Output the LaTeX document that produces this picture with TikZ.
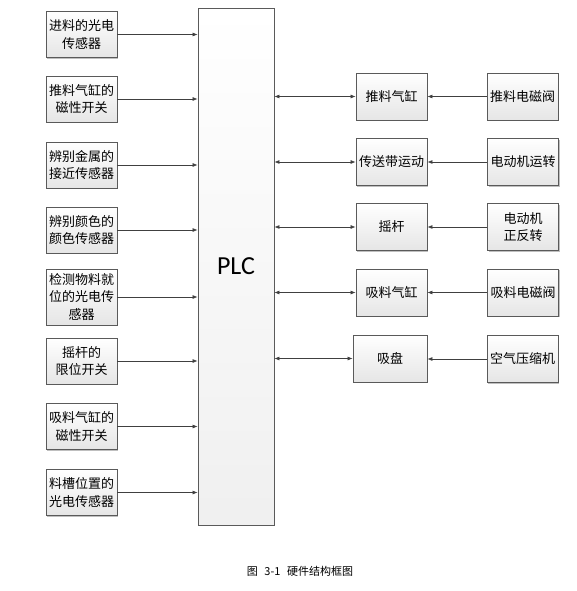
\documentclass[tikz,border=0pt]{standalone}
\usepackage{fontspec}
\newfontfamily\cjk{Noto Sans CJK SC}
\newfontfamily\plcfont{Carlito}
\usetikzlibrary{arrows.meta,shadows}
\definecolor{bordc}{HTML}{5A5A5A}
\definecolor{linec}{HTML}{404040}
\tikzset{
  blk/.style={draw=bordc, line width=0.8pt, top color=white, bottom color=black!10,
    drop shadow={shadow xshift=1.2pt, shadow yshift=-1.2pt, opacity=0.25, fill=black},
    inner sep=0pt, align=center, font=\cjk\fontsize{13}{17.5}\selectfont},
  conn/.style={draw=linec, line width=0.7pt, -{Latex[length=5pt,width=4pt]}},
  dconn/.style={draw=linec, line width=0.7pt, {Latex[length=5pt,width=4pt]}-{Latex[length=5pt,width=4pt]}},
}
\begin{document}
\begin{tikzpicture}[x=1pt,y=-1pt]
\useasboundingbox (0,0) rectangle (577,591);
% PLC
\node[blk, minimum width=76pt, minimum height=517pt, top color=white, bottom color=black!6,
  font=\plcfont\fontsize{26}{30}\selectfont] (plc) at (236,266.5) {PLC};
% left inputs
\node[blk, minimum width=71pt, minimum height=46pt] (l1) at (81.5,34.5) {进料的光电\\传感器};
\node[blk, minimum width=71pt, minimum height=46pt] (l2) at (81.5,99) {推料气缸的\\磁性开关};
\node[blk, minimum width=71pt, minimum height=46pt] (l3) at (81.5,165) {辨别金属的\\接近传感器};
\node[blk, minimum width=71pt, minimum height=46pt] (l4) at (81.5,230) {辨别颜色的\\颜色传感器};
\node[blk, minimum width=71pt, minimum height=56pt] (l5) at (81.5,297) {检测物料就\\位的光电传\\感器};
\node[blk, minimum width=71pt, minimum height=46pt] (l6) at (81.5,361) {摇杆的\\限位开关};
\node[blk, minimum width=71pt, minimum height=46pt] (l7) at (81.5,426.5) {吸料气缸的\\磁性开关};
\node[blk, minimum width=71pt, minimum height=46pt] (l8) at (81.5,492.5) {料槽位置的\\光电传感器};
\foreach \i in {1,...,8} {\draw[conn] (l\i.east) -- (l\i.east -| plc.west);}
% middle
\node[blk, minimum width=71pt, minimum height=47pt] (m1) at (391.5,96.5) {推料气缸};
\node[blk, minimum width=71pt, minimum height=47pt] (m2) at (391.5,162) {传送带运动};
\node[blk, minimum width=71pt, minimum height=47pt] (m3) at (391.5,227) {摇杆};
\node[blk, minimum width=71pt, minimum height=47pt] (m4) at (391.5,292.5) {吸料气缸};
\node[blk, minimum width=74pt, minimum height=47pt] (m5) at (390,358.5) {吸盘};
% right
\node[blk, minimum width=71pt, minimum height=47pt] (r1) at (522.5,96.5) {推料电磁阀};
\node[blk, minimum width=71pt, minimum height=47pt] (r2) at (523,162) {电动机运转};
\node[blk, minimum width=71pt, minimum height=47pt] (r3) at (523,227) {电动机\\正反转};
\node[blk, minimum width=71pt, minimum height=47pt] (r4) at (523,292.5) {吸料电磁阀};
\node[blk, minimum width=71pt, minimum height=47pt] (r5) at (522.5,359) {空气压缩机};
\foreach \i in {1,...,5} {
  \draw[dconn] (m\i.west -| plc.east) -- (m\i.west);
  \draw[conn] (r\i.west) -- (r\i.west -| m\i.east);
}
% caption
\node[font=\cjk\fontsize{11}{13}\selectfont, inner sep=0pt] (cap) at (300,571) {图\hspace{0.6em}3-1\hspace{0.6em}硬件结构框图};
\end{tikzpicture}
\end{document}
